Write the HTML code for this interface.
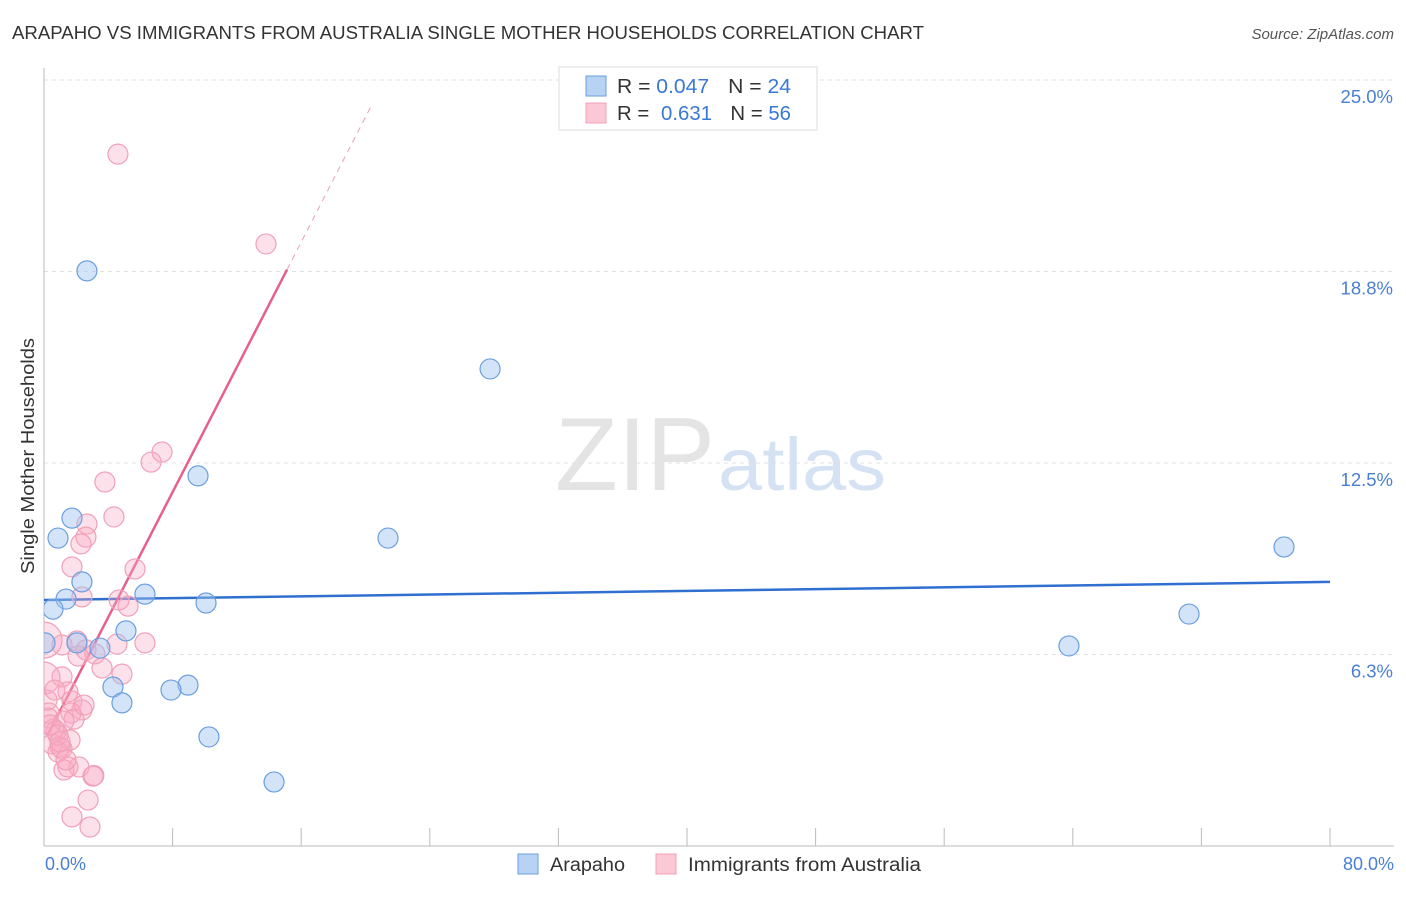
<!DOCTYPE html>
<html><head><meta charset="utf-8"><style>
body{margin:0;background:#fff;font-family:"Liberation Sans",sans-serif}
svg text{font-family:"Liberation Sans",sans-serif}
</style></head><body>
<svg id="chart" width="1406" height="892">
<defs><clipPath id="plotclip"><rect x="44" y="60" width="1362" height="786"/></clipPath></defs>
<text x="12" y="39" font-size="18" fill="#333" textLength="912" lengthAdjust="spacingAndGlyphs">ARAPAHO VS IMMIGRANTS FROM AUSTRALIA SINGLE MOTHER HOUSEHOLDS CORRELATION CHART</text>
<text x="1394" y="39" font-size="15" fill="#555" text-anchor="end" font-style="italic">Source: ZipAtlas.com</text>
<text x="555" y="490" font-size="104" fill="#e4e4e4" textLength="160" lengthAdjust="spacingAndGlyphs" font-family="Liberation Serif">ZIP</text>
<text x="718" y="490" font-size="74" fill="#d4e2f4" textLength="168" lengthAdjust="spacingAndGlyphs">atlas</text>
<g id="grid"></g><g id="axes"></g><g id="trend"></g><g id="pts" clip-path="url(#plotclip)"></g>
<text transform="translate(34,456) rotate(-90)" font-size="18" fill="#333" text-anchor="middle" textLength="236" lengthAdjust="spacingAndGlyphs">Single Mother Households</text>
<text x="45" y="870" font-size="18" fill="#4a7fd4">0.0%</text>
<text x="1394" y="870" font-size="18" fill="#4a7fd4" text-anchor="end">80.0%</text>
<g>
<rect x="559" y="67" width="258" height="63" fill="#fff" stroke="#ddd"/>
<rect x="586" y="76" width="20" height="20" fill="#b8d2f4" stroke="#6a9ee0"/>
<rect x="586" y="103" width="20" height="20" fill="#fbc8d6" stroke="#f0a0b8"/>
<text x="617" y="93" font-size="20" fill="#333" textLength="174" lengthAdjust="spacingAndGlyphs">R = <tspan fill="#3a78d8">0.047</tspan><tspan dx="18">N = </tspan><tspan fill="#3a78d8">24</tspan></text>
<text x="617" y="120" font-size="20" fill="#333" textLength="174" lengthAdjust="spacingAndGlyphs">R = <tspan fill="#3a78d8" dx="6">0.631</tspan><tspan dx="18">N = </tspan><tspan fill="#3a78d8">56</tspan></text>
</g>
<g>
<rect x="518" y="854" width="20" height="20" fill="#b8d2f4" stroke="#6a9ee0"/>
<text x="550" y="871" font-size="19" fill="#333" textLength="75" lengthAdjust="spacingAndGlyphs">Arapaho</text>
<rect x="656" y="854" width="20" height="20" fill="#fbc8d6" stroke="#f0a0b8"/>
<text x="688" y="871" font-size="19" fill="#333" textLength="233" lengthAdjust="spacingAndGlyphs">Immigrants from Australia</text>
</g>
</svg>
<script>
const yTicks=[25,18.75,12.5,6.25];
const yTickLabels=["25.0%","18.8%","12.5%","6.3%"];
const xTicks=[0,8,16,24,32,40,48,56,64,72,80];
const blueX=[2.67,27.75,9.58,1.74,0.87,21.40,77.14,2.36,1.37,6.28,10.08,0.56,71.23,5.10,0.06,2.05,3.48,63.76,4.29,8.96,7.90,4.85,10.26,14.31];
const blueY=[18.77,15.57,12.08,10.70,10.05,10.05,9.76,8.62,8.06,8.22,7.93,7.73,7.57,7.02,6.63,6.63,6.46,6.53,5.19,5.25,5.09,4.67,3.56,2.09];
const pinkX=[4.60,13.81,7.34,6.66,3.79,4.35,2.67,2.61,2.30,1.74,5.66,2.36,4.67,5.23,6.28,4.54,1.12,0,2.05,2.61,3.17,2.12,3.61,4.85,1.12,0,1.49,1.74,2.36,0.31,1.68,0.25,1.87,1.24,0.62,0.75,1.62,0.50,1.00,1.12,0.87,2.18,1.24,1.49,3.05,2.74,1.74,2.86,0.19,0.37,0.87,1.37,2.49,0.68,3.10,1.00];
const pinkY=[22.58,19.65,12.86,12.53,11.88,10.74,10.51,10.08,9.86,9.11,9.04,8.13,8.03,7.83,6.63,6.59,6.56,6.72,6.69,6.40,6.27,6.20,5.81,5.61,5.52,5.48,5.03,4.73,4.44,4.34,4.34,4.18,4.14,4.08,3.82,3.75,3.46,3.33,3.23,3.17,3.07,2.58,2.48,2.58,2.28,1.50,0.95,0.62,4.76,3.95,3.62,2.81,4.60,5.09,2.30,3.40];
const pinkR=[10,10,10,10,10,10,10,10,10,10,10,10,10,10,10,10,10,18,10,10,10,10,10,10,10,16,10,10,10,10,10,10,10,10,10,10,10,10,10,10,10,10,10,10,10,10,10,10,10,10,10,10,10,10,10,10];
const blueTrend=[8.03,8.62];
const pinkTrend=[3.39,1.02];
const X=v=>44+v*(1286/80), Y=v=>846-v*30.64;
const ns="http://www.w3.org/2000/svg";
function mk(p,t,a){const e=document.createElementNS(ns,t);for(const k in a)e.setAttribute(k,a[k]);p.appendChild(e);return e;}
const grid=document.getElementById('grid'),axes=document.getElementById('axes'),tr=document.getElementById('trend'),pts=document.getElementById('pts');
yTicks.forEach((t,i)=>{const l=mk(grid,'line',{x1:44,x2:1394,y1:Y(t),y2:Y(t),stroke:'#e0e0e0','stroke-dasharray':'4,4'});


const tx=mk(grid,'text',{x:1393,y:Y(t)+23,'font-size':18.5,fill:'#4a7fd4','text-anchor':'end'});tx.textContent=yTickLabels[i];

});
const ya=mk(axes,'line',{x1:44,x2:44,y1:68,y2:846,stroke:'#bbb'});


const xa=mk(axes,'line',{x1:44,x2:1394,y1:846,y2:846,stroke:'#bbb'});


xTicks.forEach(t=>{const l=mk(axes,'line',{x1:X(t),x2:X(t),y1:828,y2:846,stroke:'#bbb'});

});
const bt=mk(tr,'line',{x1:X(0),x2:X(80),y1:Y(blueTrend[0]),y2:Y(blueTrend[1]),stroke:'#2f6fd0','stroke-width':2.5});


const pe=15.12,pd=20.3;
const pt=mk(tr,'line',{x1:X(0.2),x2:X(pe),y1:Y(pinkTrend[0]+pinkTrend[1]*0.2),y2:Y(pinkTrend[0]+pinkTrend[1]*pe),stroke:'#e8608a','stroke-width':2.5});


const pdl=mk(tr,'line',{x1:X(pe),x2:X(pd),y1:Y(pinkTrend[0]+pinkTrend[1]*pe),y2:Y(pinkTrend[0]+pinkTrend[1]*pd),stroke:'#e8a0b8','stroke-width':1,'stroke-dasharray':'6,5'});


pinkX.forEach((x,i)=>{const c=mk(pts,'circle',{cx:X(x),cy:Y(pinkY[i]),r:pinkR[i],fill:'rgba(248,170,195,0.35)',stroke:'#f0a0b8','stroke-width':1.2});

});
blueX.forEach((x,i)=>{const c=mk(pts,'circle',{cx:X(x),cy:Y(blueY[i]),r:10,fill:'rgba(160,196,240,0.45)',stroke:'#6a9ee0','stroke-width':1.2});

});
</script>
</body></html>
